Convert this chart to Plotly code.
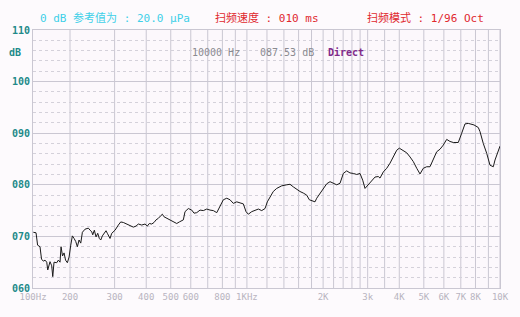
import plotly.graph_objects as go

# ---- data ----
freq_hz = [143.2, 146.8, 148.9, 152.2, 154.3, 156.9, 159.3, 161.8, 163.3, 166.7,
           169.3, 170.9, 172.9, 177.2, 179.8, 182.6, 184.3, 186.8, 189.4, 192.0,
           195.2, 198.3, 201.3, 204.3, 207.5, 210.7, 213.8, 217.1, 220.5, 223.8,
           229.3, 236.3, 240.0, 243.7, 245.9, 249.5, 253.4, 257.3, 261.1, 264.5,
           268.4, 272.5, 277.5, 280.8, 284.4, 287.8, 292.3, 301.2, 310.4, 317.2,
           324.8, 335.0, 345.2, 355.8, 364.6, 372.3, 384.0, 395.7, 404.1, 411.5,
           420.6, 429.5, 437.4, 446.6, 456.5, 463.3, 470.5, 482.2, 493.7, 504.6,
           515.2, 528.0, 540.7, 551.6, 560.7, 569.4, 586.8, 605.2, 618.0, 633.4,
           652.7, 672.6, 693.8, 714.9, 736.8, 759.9, 783.0, 806.9, 832.2, 857.5,
           883.7, 911.4, 939.1, 967.8, 991.9, 1013, 1045, 1076, 1110, 1144,
           1179, 1204, 1234, 1271, 1311, 1372, 1437, 1480, 1525, 1573,
           1621, 1670, 1723, 1764, 1803, 1858, 1887, 1945, 2004, 2067,
           2130, 2195, 2264, 2333, 2404, 2479, 2554, 2633, 2715, 2798,
           2867, 2928, 3018, 3112, 3207, 3305, 3356, 3459, 3568, 3677,
           3788, 3908, 4001, 4149, 4280, 4410, 4544, 4688, 4830, 4977,
           5133, 5289, 5451, 5622, 5794, 5970, 6157, 6344, 6539, 6842,
           7058, 7272, 7495, 7660, 7894, 8209, 8337, 8591, 8861, 9130,
           9409, 9555, 9847, 10000]
level_db = [70.8, 70.7, 68.3, 68.0, 65.6, 65.2, 65.4, 65.0, 63.5, 65.1,
            64.3, 62.2, 65.0, 64.9, 65.4, 65.0, 68.0, 66.2, 66.8, 65.4,
            64.9, 66.0, 68.3, 70.1, 69.6, 69.0, 68.0, 69.3, 68.7, 70.8,
            71.4, 71.6, 71.2, 70.9, 70.3, 71.2, 69.9, 70.6, 69.6, 69.3,
            70.1, 70.5, 71.1, 70.6, 69.9, 69.6, 70.6, 71.2, 72.2, 72.8,
            72.7, 72.4, 72.0, 71.8, 72.0, 72.4, 72.2, 72.4, 72.0, 72.5,
            72.4, 72.7, 73.2, 73.5, 74.0, 74.3, 73.8, 73.5, 73.3, 73.0,
            72.8, 72.5, 72.8, 73.0, 73.2, 74.8, 75.4, 75.1, 74.5, 74.6,
            75.1, 75.0, 75.3, 75.1, 75.0, 74.6, 75.8, 77.1, 77.4, 77.1,
            76.4, 76.7, 76.5, 76.3, 74.8, 74.3, 74.8, 75.1, 75.3, 75.0,
            75.4, 76.7, 77.7, 78.7, 79.3, 79.8, 80.0, 80.1, 79.6, 79.1,
            78.7, 78.4, 78.0, 77.1, 76.9, 76.7, 77.4, 78.4, 79.3, 80.2,
            80.6, 80.3, 80.0, 80.3, 82.2, 82.7, 82.3, 82.2, 82.0, 82.2,
            80.9, 79.3, 80.0, 80.9, 81.5, 81.6, 81.3, 82.5, 83.2, 84.2,
            85.4, 86.7, 87.1, 86.6, 86.2, 85.4, 84.5, 83.2, 82.1, 83.2,
            83.5, 83.5, 85.1, 86.4, 86.9, 87.7, 88.8, 88.4, 88.2, 88.2,
            90.0, 91.8, 91.9, 91.8, 91.6, 91.1, 90.3, 88.0, 86.1, 83.8,
            83.5, 84.8, 86.7, 87.5]

x_tick_vals = [142.8, 200, 300, 400, 500, 600, 800, 1000, 2000, 3000,
               4000, 5000, 6000, 7000, 8000, 10000]
x_tick_text = ["100Hz", "200", "300", "400", "500", "600", "800", "1KHz", "2K", "3k",
               "4K", "5K", "6K", "7K", "8K", "10K"]
x_grid_freqs = [200, 300, 400, 500, 600, 700, 800, 900, 1000, 1200, 1400, 1600, 1800,
                2000, 2200, 2400, 2600, 2800, 3000, 3500, 4000, 5000, 6000, 7000,
                8000, 9000, 10000]
y_tick_vals = [60, 70, 80, 90, 100, 110]
y_tick_text = ["060", "070", "080", "090", "100", "110"]

MONO = "DejaVu Sans Mono, Noto Sans CJK SC, monospace"
GRID = "#cac7d2"

fig = go.Figure()
fig.add_trace(go.Scatter(x=freq_hz, y=level_db, mode="lines",
                         line=dict(color="#1a1a1a", width=1), hoverinfo="skip"))

shapes = []
for f in x_grid_freqs:
    shapes.append(dict(type="line", xref="x", yref="paper", x0=f, x1=f, y0=0, y1=1,
                       line=dict(color=GRID, width=1), layer="below"))
fig.update_layout(shapes=shapes)

fig.update_layout(
    width=520, height=317,
    margin=dict(l=33, r=20, t=30, b=29),
    paper_bgcolor="#fdfafd", plot_bgcolor="#fcf8fc",
    showlegend=False,
    xaxis=dict(type="log", range=[2.1547, 4.0], tickvals=x_tick_vals, ticktext=x_tick_text,
               showgrid=False, zeroline=False, showline=True, linecolor=GRID, mirror=True,
               ticks="", tickfont=dict(family=MONO, size=9, color="#b8b4c0")),
    yaxis=dict(range=[60, 110], tickvals=y_tick_vals, ticktext=y_tick_text,
               showgrid=True, gridcolor=GRID, gridwidth=1, zeroline=False,
               showline=True, linecolor=GRID, mirror=True, ticks="",
               minor=dict(dtick=2, showgrid=True, gridcolor="#d4d1da", griddash="dot", gridwidth=1),
               tickfont=dict(family=MONO, size=10, color="#1e8a8a", weight="bold")),
)

def px_x(p):
    return (p - 33) / 467.0

def px_y(p):
    return (288 - p) / 258.0

ann = [
    ("0 dB 参考值为 : 20.0 μPa", 38, 18, "#3fd0e8", "normal", 11),
    ("扫频速度 : 010 ms", 213, 18, "#e0282e", "normal", 11),
    ("扫频模式 : 1/96 Oct", 365, 18, "#e0282e", "normal", 11),
    ("10000 Hz", 190, 52, "#8a8a90", "normal", 10),
    ("087.53 dB", 258, 52, "#8a8a90", "normal", 10),
    ("Direct", 326, 52, "#802a8a", "bold", 10),
    ("dB", 7, 52, "#1e8a8a", "bold", 10),
]
for text, xp, yp, col, w, sz in ann:
    fig.add_annotation(text=text, xref="paper", yref="paper", x=px_x(xp), y=px_y(yp),
                       xanchor="left", yanchor="middle", showarrow=False,
                       font=dict(family=MONO, size=sz, color=col, weight=w))

fig.write_html("out.html")
